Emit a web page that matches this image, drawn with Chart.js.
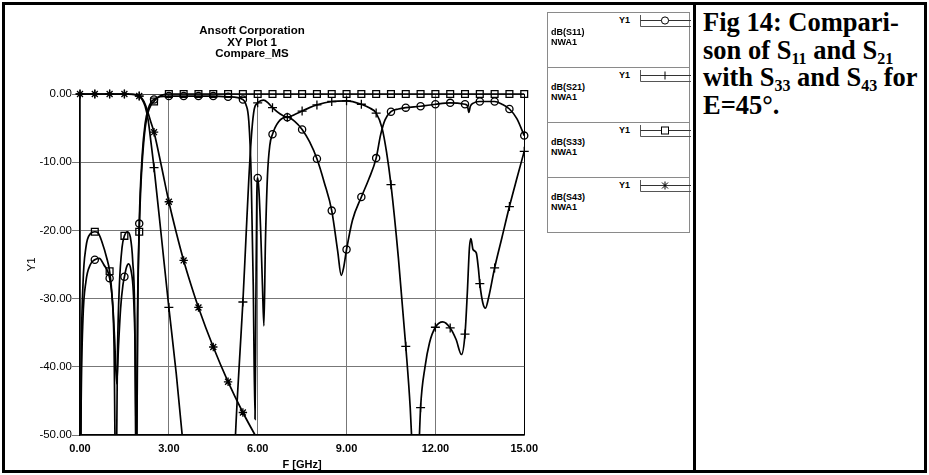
<!DOCTYPE html>
<html>
<head>
<meta charset="utf-8">
<script src="https://cdn.jsdelivr.net/npm/chart.js@4.4.0/dist/chart.umd.min.js"></script>
<style>
  html, body { margin: 0; padding: 0; background: #fff; }
  #page { position: relative; width: 929px; height: 475px; overflow: hidden; font-family: "Liberation Sans", Arial, sans-serif; color: #000; }
  #frame { position: absolute; left: 2px; top: 2px; width: 925px; height: 471px; border: 3px solid #000; box-sizing: border-box; }
  #divider { position: absolute; left: 693px; top: 2px; width: 3px; height: 471px; background: #000; }
  #plot { position: absolute; left: 0; top: 0; }
  #title { position: absolute; left: 152px; top: 25px; width: 200px; text-align: center; font-weight: bold; font-size: 11.5px; line-height: 11.7px; }
  .lg { position: absolute; left: 547px; width: 143px; height: 56px; border: 1px solid #8a8a8a; box-sizing: border-box; font-weight: bold; font-size: 9px; line-height: 9px; }
  .lg span { position: absolute; white-space: nowrap; }
  .lg svg { position: absolute; left: 0; top: 0; }
  #caption { position: absolute; left: 703px; top: 9px; font-family: "Liberation Serif", "Times New Roman", serif; font-weight: bold; font-size: 26.5px; line-height: 27.5px; }
  #caption sub { font-size: 16px; vertical-align: -5px; line-height: 0; }
</style>
</head>
<body>
<div id="page">
  <canvas id="plot" width="545" height="475"></canvas>
  <div id="title">Ansoft Corporation<br>XY Plot 1<br>Compare_MS</div>
  <div id="legend"></div>
  <div id="caption">Fig 14: Compari-<br>son of S<sub>11</sub> and S<sub>21</sub><br>with S<sub>33</sub> and S<sub>43</sub> for<br>E=45°.</div>
  <div id="frame"></div>
  <div id="divider"></div>
</div>
<script>
// ---------- DATA (F in GHz, values in dB) ----------
const xTicks = [0, 3, 6, 9, 12, 15];
const yTicks = [0, -10, -20, -30, -40, -50];
const seriesNames = ["dB(S11)", "dB(S21)", "dB(S33)", "dB(S43)"];
const seriesMarkers = ["circle", "cross", "rect", "star"];

const s11Freq = [0, 0.04, 0.1, 0.2, 0.35, 0.5, 0.65, 0.8, 1.0, 1.1, 1.17, 1.24, 1.3, 1.37, 1.45, 1.5, 1.57, 1.64, 1.72, 1.8, 1.86, 1.91, 1.95, 2.0,
  2.1, 2.2, 2.3, 2.4, 2.5, 2.7, 3.0, 3.5, 4.0, 4.5, 5.0, 5.5, 5.6, 5.7, 5.78, 5.85, 5.91, 5.94, 5.97, 6.0, 6.04, 6.1, 6.16, 6.21,
  6.26, 6.33, 6.41, 6.5, 6.7, 7.0, 7.25, 7.5, 7.75, 8.0, 8.25, 8.5, 8.7, 8.82, 8.9, 9.0, 9.2, 9.5, 9.75, 10.0, 10.15, 10.3, 10.5,
  10.75, 11.0, 11.5, 12.0, 12.5, 13.0, 13.08, 13.13, 13.18, 13.3, 13.5, 14.0, 14.25, 14.5, 14.75, 15.0];
const s11Db = [-70, -45, -33, -27.5, -25, -24.3, -24.1, -25, -27, -30.5, -36, -42.5, -37, -31.5, -28, -26.8, -25.4, -24.9, -25.8, -29, -37, -55, -32, -19,
  -9, -4.3, -2.2, -1.2, -0.8, -0.4, -0.3, -0.3, -0.3, -0.3, -0.4, -0.8, -1.5, -4, -12, -28, -47.7, -30, -15, -12.3, -14, -20, -28, -34,
  -22, -12, -7.5, -5.9, -4.1, -3.4, -4, -5.2, -7, -9.5, -13, -17.1, -23, -26.6, -25.5, -22.8, -18.5, -15.1, -12.5, -9.4, -6, -3.8, -2.6,
  -2.2, -2.0, -1.8, -1.5, -1.3, -1.5, -1.7, -2.7, -1.8, -1.3, -1.1, -1.1, -1.5, -2.2, -3.6, -6.1];

const s21Freq = [0, 0.5, 1.0, 1.5, 1.9, 2.0, 2.1, 2.2, 2.3, 2.4, 2.5, 2.75, 3.0, 3.25, 3.45, 3.6, 5.15, 5.25, 5.4, 5.5, 5.6, 5.7, 5.8,
  5.88, 6.0, 6.1, 6.2, 6.35, 6.5, 6.75, 7.0, 7.25, 7.5, 7.75, 8.0, 8.5, 9.0, 9.5, 9.8, 10.0, 10.2, 10.35, 10.5, 10.75, 11.0, 11.15,
  11.25, 11.35, 11.42, 11.5, 11.65, 11.8, 12.0, 12.25, 12.5, 12.7, 12.88, 13.0, 13.08, 13.15, 13.2, 13.27, 13.38, 13.45, 13.5, 13.6,
  13.69, 13.8, 14.0, 14.25, 14.5, 14.75, 15.0];
const s21Db = [0, 0, 0, 0, -0.1, -0.3, -0.8, -1.8, -3.8, -7.2, -10.8, -21, -31.3, -41, -50, -58, -62, -50, -38, -30.5, -21.5, -12.5, -5.5,
  -2.3, -1.3, -1.0, -0.9, -1.3, -2.0, -2.9, -3.4, -3.0, -2.5, -2.0, -1.6, -1.1, -1.0, -1.5, -2.1, -2.8, -5, -8.5, -13.3, -24, -37, -46,
  -55, -62, -55, -46, -40, -36.5, -34.2, -33.4, -34.3, -36, -38.2, -35.2, -29, -22.5, -21.2, -22.8, -23.3, -25.5, -27.8, -30.6,
  -31.4, -29.8, -25.5, -21, -16.5, -12.4, -8.4];

const s33Freq = [0, 0.04, 0.1, 0.2, 0.35, 0.5, 0.6, 0.75, 0.9, 1.0, 1.08, 1.15, 1.21, 1.27, 1.33, 1.42, 1.5, 1.6, 1.7, 1.78, 1.85, 1.9,
  1.94, 2.0, 2.05, 2.1, 2.2, 2.3, 2.4, 2.5, 2.6, 2.75, 3.0, 3.5, 4.0, 4.5, 5.0, 5.5, 6.0, 6.5, 7.0, 7.5, 8.0, 8.5, 9.0, 9.5, 10.0,
  10.5, 11.0, 11.5, 12.0, 12.5, 13.0, 13.5, 14.0, 14.5, 15.0];
const s33Db = [-70, -40, -28, -22.5, -20.5, -20.2, -20.3, -21.8, -24, -26, -29.5, -37, -60, -37, -28, -22.5, -20.8, -20.2, -21, -24.5, -33, -60,
  -33, -20.2, -14, -10, -5, -2.7, -1.6, -1.1, -0.6, -0.2, 0, 0, 0, 0, 0, 0, 0, 0, 0, 0, 0, 0, 0, 0, 0,
  0, 0, 0, 0, 0, 0, 0, 0, 0, 0];

const s43Freq = [0, 0.5, 1.0, 1.5, 1.8, 2.0, 2.1, 2.2, 2.3, 2.4, 2.5, 2.75, 3.0, 3.25, 3.5, 3.75, 4.0, 4.5, 5.0, 5.5, 5.95, 6.3];
const s43Db = [0, 0, 0, 0, -0.05, -0.3, -0.7, -1.5, -2.8, -4.2, -5.6, -10.6, -15.8, -20.3, -24.4, -28, -31.3, -37.1, -42.2, -46.7, -50.3, -53];

const markerStep = 0.5;

// ---------- HELPERS ----------
function toPoints(freq, db) {
  return freq.map((f, i) => ({ x: f, y: db[i] }));
}

function onMarkerGrid(v) {
  return Math.abs(v / markerStep - Math.round(v / markerStep)) < 1e-6;
}

function makeSeries(label, freq, db, style, radius) {
  return {
    label: label,
    data: toPoints(freq, db),
    borderColor: "#000",
    borderWidth: 1.7,
    cubicInterpolationMode: "monotone",
    pointStyle: style,
    pointRadius: c => (c.raw && onMarkerGrid(c.raw.x) && c.raw.y >= -50 && c.raw.y <= 0.5) ? radius : 0,
    pointHoverRadius: 0,
    pointBorderColor: "#000",
    pointBackgroundColor: "rgba(0,0,0,0)",
    pointBorderWidth: 1.3,
    clip: { left: 6, top: 6, right: 6, bottom: 0 }
  };
}

// ---------- CHART ----------
Chart.defaults.font.family = "'Liberation Sans', Arial, sans-serif";
Chart.defaults.color = "#000";

new Chart(document.getElementById("plot"), {
  type: "line",
  data: {
    datasets: [
      makeSeries(seriesNames[0], s11Freq, s11Db, seriesMarkers[0], 3.6),
      makeSeries(seriesNames[1], s21Freq, s21Db, seriesMarkers[1], 4.5),
      makeSeries(seriesNames[2], s33Freq, s33Db, seriesMarkers[2], 4.8),
      makeSeries(seriesNames[3], s43Freq, s43Db, seriesMarkers[3], 4.2)
    ]
  },
  options: {
    responsive: false,
    animation: false,
    events: [],
    layout: { padding: { left: 20, right: 18, top: 94, bottom: 3 } },
    plugins: { legend: { display: false }, tooltip: { enabled: false } },
    scales: {
      x: {
        type: "linear",
        min: 0, max: 15,
        afterFit: s => { s.height = 37; },
        ticks: {
          stepSize: 1, autoSkip: false, maxRotation: 0, padding: 7,
          font: { size: 11, weight: "bold" },
          callback: v => xTicks.includes(v) ? v.toFixed(2) : ""
        },
        grid: {
          drawTicks: false,
          lineWidth: 1,
          color: c => c.tick.value === 15 ? "#000" : (xTicks.includes(c.tick.value) ? "#777" : "rgba(0,0,0,0)")
        },
        border: { color: "#000", width: 1.5 },
        title: { display: true, text: "F [GHz]", font: { size: 11, weight: "bold" }, padding: { top: 0, bottom: 0 } }
      },
      y: {
        min: -50, max: 0,
        afterFit: s => { s.width = 60; },
        ticks: {
          stepSize: 2, autoSkip: false, padding: 0,
          font: { size: 11.5 },
          callback: v => yTicks.includes(v) ? v.toFixed(2) : ""
        },
        grid: {
          tickLength: 8,
          color: c => c.tick.value === 0 ? "#444" : (yTicks.includes(c.tick.value) ? "#777" : "rgba(0,0,0,0)"),
          tickColor: c => yTicks.includes(c.tick.value) ? "#777" : "rgba(0,0,0,0)"
        },
        border: { color: "#000", width: 1.5 },
        title: { display: true, text: "Y1", font: { size: 11.5 }, padding: { top: 5, bottom: 0 } }
      }
    }
  }
});

// ---------- LEGEND BOXES ----------
function markerSvg(style, cx, cy) {
  if (style === "circle") return `<circle cx="${cx}" cy="${cy}" r="3.6" fill="#fff" stroke="#000" stroke-width="1"/>`;
  if (style === "rect") return `<rect x="${cx - 3.5}" y="${cy - 3.5}" width="7" height="7" fill="#fff" stroke="#000" stroke-width="1"/>`;
  if (style === "cross") return `<line x1="${cx}" y1="${cy - 4}" x2="${cx}" y2="${cy + 4}" stroke="#000"/>`;
  return `<line x1="${cx}" y1="${cy - 4}" x2="${cx}" y2="${cy + 4}" stroke="#000"/>` +
    `<line x1="${cx - 3}" y1="${cy - 3}" x2="${cx + 3}" y2="${cy + 3}" stroke="#000"/>` +
    `<line x1="${cx - 3}" y1="${cy + 3}" x2="${cx + 3}" y2="${cy - 3}" stroke="#000"/>`;
}

const legend = document.getElementById("legend");
seriesNames.forEach((name, i) => {
  const box = document.createElement("div");
  box.className = "lg";
  box.style.top = (12 + i * 55) + "px";
  box.innerHTML =
    `<svg width="143" height="20">` +
    `<line x1="92.5" y1="2" x2="92.5" y2="13.5" stroke="#555" stroke-width="1"/>` +
    `<line x1="92.5" y1="7.5" x2="143" y2="7.5" stroke="#333" stroke-width="1"/>` +
    `<line x1="92.5" y1="13.5" x2="143" y2="13.5" stroke="#555" stroke-width="1"/>` +
    markerSvg(seriesMarkers[i], 117, 7.5) + `</svg>` +
    `<span style="left:71px;top:3px">Y1</span>` +
    `<span style="left:3px;top:15px">${name}</span>` +
    `<span style="left:3px;top:24.5px">NWA1</span>`;
  legend.appendChild(box);
});
</script>
</body>
</html>
